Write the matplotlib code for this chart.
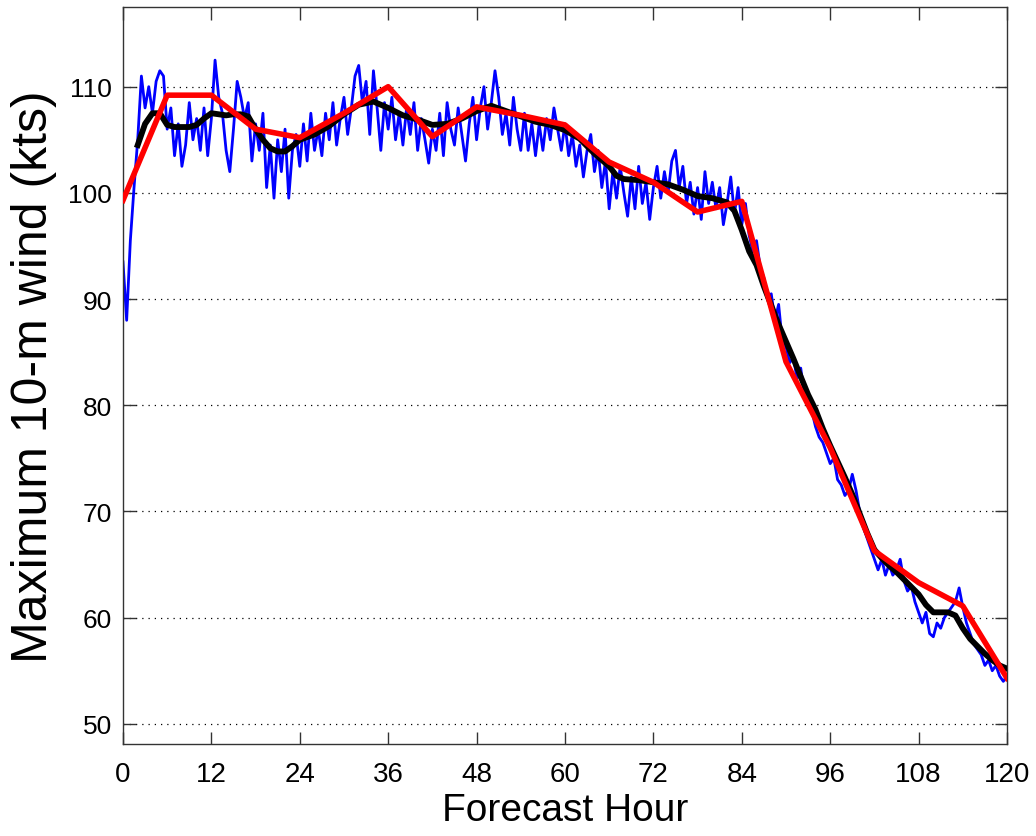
import numpy as np
import matplotlib
matplotlib.use("Agg")
import matplotlib.pyplot as plt

# Blue: raw series at 0.5 h resolution (0..120)
blue_hours = np.arange(0, 120.5, 0.5)
blue_vals = [
    93.5, 88.0, 95.5, 100.5, 105.0, 111.0, 108.0, 110.0, 107.5, 110.5,
    111.5, 111.0, 106.0, 108.0, 103.5, 106.5, 102.5, 104.5, 108.5, 105.0,
    107.0, 104.0, 108.0, 103.5, 107.0, 112.5, 109.0, 107.5, 104.0, 102.0,
    106.0, 110.5, 109.0, 107.0, 108.5, 103.0, 106.5, 104.0, 107.5, 100.5,
    104.5, 99.5, 105.0, 102.0, 106.0, 99.5, 104.0, 105.5, 102.5, 106.5,
    103.0, 107.5, 104.0, 106.0, 103.5, 107.5, 105.0, 108.5, 104.5, 107.0,
    109.0, 105.5, 108.0, 111.0, 112.0, 108.5, 110.5, 105.5, 111.5, 108.0,
    104.0, 108.5, 106.0, 109.0, 105.0, 107.5, 104.5, 108.0, 105.5, 108.5,
    104.0, 107.0, 105.0, 102.8, 106.0, 104.0, 107.5, 103.5, 108.5, 106.0,
    104.5, 108.0, 105.5, 103.0, 106.5, 109.0, 105.0, 108.0, 110.0, 106.0,
    108.5, 111.5, 109.0, 105.5, 107.5, 104.5, 109.0, 106.0, 104.0, 107.5,
    104.0, 106.5, 103.5, 106.5, 104.0, 107.0, 105.0, 108.0, 106.0, 104.0,
    106.5, 103.5, 105.5, 102.5, 104.5, 101.5, 104.0, 105.5, 102.0, 104.0,
    100.5, 103.0, 98.5, 102.0, 99.5, 102.5, 100.0, 97.8, 101.5, 98.5,
    102.5, 99.0, 101.0, 97.5, 100.5, 102.5, 99.5, 102.0, 100.0, 103.0,
    104.0, 100.5, 102.5, 99.0, 101.0, 98.0, 100.5, 97.5, 102.0, 99.0,
    101.0, 98.5, 100.5, 97.0, 99.0, 101.5, 98.0, 100.5, 97.0, 99.0,
    96.0, 94.5, 95.5, 93.0, 92.0, 90.0, 90.5, 88.0, 89.5, 86.0,
    85.5, 84.0, 84.5, 82.5, 83.5, 81.0, 80.0, 79.5, 78.0, 77.0,
    76.5, 75.5, 74.5, 75.0, 73.0, 72.5, 71.5, 72.0, 73.5, 72.0,
    70.0, 68.5, 67.5, 66.5, 65.5, 64.5, 65.5, 64.0, 65.0, 64.0,
    64.5, 65.5, 63.5, 62.5, 63.0, 61.5, 60.5, 59.5, 60.5, 58.5,
    58.2, 59.5, 59.0, 60.0, 60.5, 61.0, 61.5, 62.8, 61.0, 59.5,
    58.5, 57.5, 57.0, 56.5, 55.5, 56.0, 55.0, 55.5, 54.5, 54.0,
    54.5,
]

# Black: smoothed series
black_hours = [2, 3, 4, 5, 6, 7, 8, 9, 10, 11, 12, 13, 14, 15, 16, 17, 18, 19, 20,
               21, 22, 23, 24, 26, 28, 30, 32, 34, 36, 38, 40, 42, 44, 46, 48, 50,
               52, 54, 56, 58, 60, 62, 64, 66, 67, 68, 70, 72, 74, 76, 78, 80, 82,
               83, 84, 85, 86, 87, 88, 89, 90, 91, 92, 93, 94, 95, 96, 97, 98, 99,
               100, 101, 102, 103, 104, 105, 106, 107, 108, 109, 110, 111, 112, 113,
               114, 115, 116, 117, 118, 119, 120]
black_vals = [104.5, 106.5, 107.5, 107.5, 106.4, 106.2, 106.2, 106.2, 106.4, 107.0,
              107.5, 107.4, 107.3, 107.4, 107.4, 107.2, 106.0, 105.0, 104.2, 103.9,
              103.9, 104.4, 105.0, 105.5, 106.3, 107.4, 108.3, 108.6, 108.0, 107.3,
              106.9, 106.4, 106.5, 107.0, 107.7, 108.2, 107.7, 107.2, 106.7, 106.4,
              105.9, 105.1, 103.7, 102.5, 101.6, 101.3, 101.2, 101.0, 100.8, 100.3,
              99.7, 99.5, 99.1, 98.3, 96.5, 94.5, 93.2, 91.2, 89.4, 87.6, 86.0, 84.4,
              82.7, 81.0, 79.6, 77.8, 76.2, 74.7, 73.2, 71.6, 69.8, 68.0, 66.4, 65.6,
              64.9, 64.3, 63.6, 62.9, 62.2, 61.2, 60.5, 60.5, 60.5, 60.2, 59.0, 58.0,
              57.3, 56.6, 56.0, 55.5, 55.2]

# Red: 6-hourly
red_hours = [0, 6, 12, 18, 24, 30, 36, 42, 48, 54, 60, 66, 72, 78, 84, 90, 96,
             102, 108, 114, 120]
red_vals = [99.3, 109.2, 109.2, 106.0, 105.2, 107.5, 110.0, 105.3, 108.1, 107.3,
            106.4, 102.9, 101.0, 98.2, 99.2, 84.1, 76.0, 66.3, 63.3, 61.1, 54.3]

xticks = [0, 12, 24, 36, 48, 60, 72, 84, 96, 108, 120]
yticks = [50, 60, 70, 80, 90, 100, 110]

plt.rcParams['font.family'] = ['Liberation Sans', 'DejaVu Sans']

fig = plt.figure(figsize=(10.36, 8.37), dpi=100)
ax = fig.add_axes([0.1187, 0.1099, 0.8533, 0.8805])

ax.plot(blue_hours, blue_vals, color='#0000ff', lw=2.0, zorder=2)
ax.plot(black_hours, black_vals, color='black', lw=4.2, zorder=3)
ax.plot(red_hours, red_vals, color='#ff0000', lw=4.0, zorder=4)

ax.set_xlim(0, 120)
ax.set_ylim(48.1, 117.5)
ax.set_xticks(xticks)
ax.set_yticks(yticks)
ax.yaxis.grid(True, linestyle=(0, (1, 4)), color='black', lw=0.9)
ax.set_axisbelow(True)

ax.tick_params(axis='both', direction='in', length=9, width=1,
               top=True, right=True, color='#333333')
ax.tick_params(axis='x', labelsize=20, pad=12)
ax.tick_params(axis='y', labelsize=19, pad=8)
for s in ax.spines.values():
    s.set_color('#333333')
    s.set_linewidth(1)

ax.set_xlabel('Forecast Hour', fontsize=28, labelpad=4)
ax.set_ylabel('Maximum 10-m wind (kts)', fontsize=36, labelpad=8)

fig.savefig('out.png', dpi=100)
